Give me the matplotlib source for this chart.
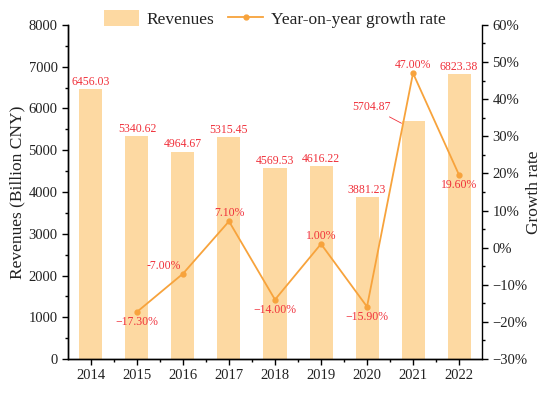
import matplotlib.pyplot as plt
import numpy as np
from matplotlib.ticker import MultipleLocator, FuncFormatter

plt.rcParams['font.family'] = ['Liberation Serif', 'DejaVu Serif']
plt.rcParams['axes.unicode_minus'] = True

years = ["2014", "2015", "2016", "2017", "2018", "2019", "2020", "2021", "2022"]
revenues = [6456.03, 5340.62, 4964.67, 5315.45, 4569.53, 4616.22, 3881.23, 5704.87, 6823.38]
growth = [np.nan, -17.30, -7.00, 7.10, -14.00, 1.00, -15.90, 47.00, 19.60]
# where each growth label goes relative to its point (points)
growth_offsets = [None, (0, -3), (-14, 1), (0, 1.5), (0, -3), (0, 1.5), (0, -3), (0, 1.5), (0, -3)]

bar_color = "#FDD9A2"
line_color = "#F7A33C"
label_color = "#F0303A"
text_color = "#222222"

fig = plt.figure(figsize=(5.5, 3.95), dpi=100)
ax = fig.add_axes([0.1236, 0.091, 0.7528, 0.846])
x = np.arange(len(years))

bars = ax.bar(x, revenues, width=0.5, color=bar_color, label="Revenues", zorder=1)
ax.set_xlim(-0.5, len(years) - 0.5)
ax.set_ylim(0, 8000)
ax.yaxis.set_major_locator(MultipleLocator(1000))
ax.yaxis.set_minor_locator(MultipleLocator(500))
ax.set_xticks(x)
ax.set_xticklabels(years)
ax.set_xticks(x[:-1] + 0.5, minor=True)
ax.set_ylabel("Revenues (Billion CNY)", fontsize=12.5, labelpad=2, color=text_color)
ax.spines["top"].set_visible(False)
ax.spines["right"].set_visible(False)
ax.tick_params(axis="both", which="major", labelsize=10.5, direction="out", length=4, width=1,
               labelcolor=text_color)
ax.tick_params(axis="both", which="minor", direction="out", length=2.5, width=1)

for i, v in enumerate(revenues):
    if years[i] == "2021":
        ax.annotate(f"{v:.2f}", xy=(i - 0.25, v - 60), xytext=(i - 0.9, 5880),
                    ha="center", va="bottom", fontsize=8.5, color=label_color,
                    arrowprops=dict(arrowstyle="-", color=label_color, lw=0.6,
                                    shrinkA=1, shrinkB=0))
    else:
        ax.annotate(f"{v:.2f}", xy=(i, v), xytext=(0, 1), textcoords="offset points",
                    ha="center", va="bottom", fontsize=8.5, color=label_color)

ax2 = ax.twinx()
ax2.set_ylim(-30, 60)
ax2.yaxis.set_major_locator(MultipleLocator(10))
ax2.yaxis.set_minor_locator(MultipleLocator(5))
ax2.yaxis.set_major_formatter(FuncFormatter(lambda v, p: f"{v:.0f}%".replace("-", "\u2212")))
ax2.set_ylabel("Growth rate", fontsize=12.5, labelpad=-1, color=text_color)
ax2.spines["top"].set_visible(False)
ax2.tick_params(axis="y", which="major", labelsize=10.5, direction="out", length=4, width=1,
                labelcolor=text_color)
ax2.tick_params(axis="y", which="minor", direction="out", length=2.5, width=1)
line, = ax2.plot(x, growth, color=line_color, lw=1.3, marker="o", markersize=3.5,
                 label="Year-on-year growth rate", zorder=3)

for i, g in enumerate(growth):
    if np.isnan(g):
        continue
    dx, dy = growth_offsets[i]
    txt = f"{g:.2f}%"
    if years[i] != "2016":
        txt = txt.replace("-", "\u2212")
    ax2.annotate(txt, xy=(i, g), xytext=(dx, dy), textcoords="offset points",
                 ha="center", va="bottom" if dy > 0 else "top", fontsize=8.5, color=label_color)

for a in (ax, ax2):
    for s in a.spines.values():
        s.set_linewidth(1.0)

leg = fig.legend(handles=[bars, line], loc="center", bbox_to_anchor=(0.5, 1 - 19 / 395), ncol=2,
                 frameon=False, fontsize=12.5, handlelength=2.0, handleheight=1.0,
                 columnspacing=0.8, handletextpad=0.46, borderpad=0, borderaxespad=0)
for t in leg.get_texts():
    t.set_color(text_color)

fig.savefig("out.png", dpi=100)
